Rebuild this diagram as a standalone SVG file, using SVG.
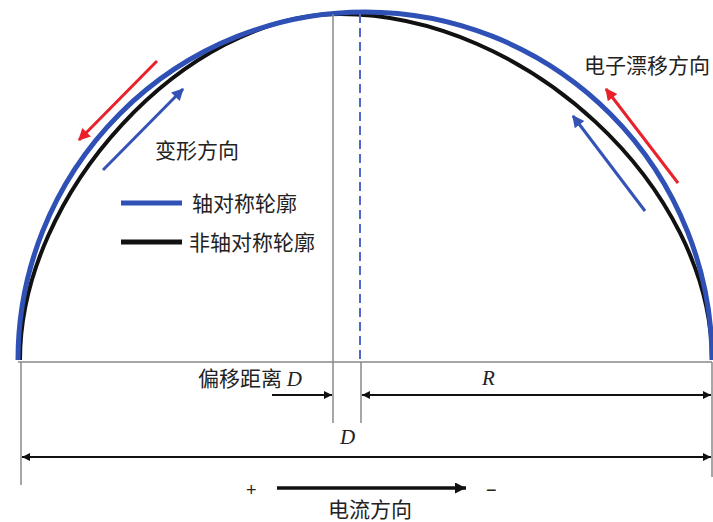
<svg xmlns="http://www.w3.org/2000/svg" width="713" height="522" viewBox="0 0 713 522">
<style>
.cjk{font-family:"Noto Sans CJK SC","Noto Sans",sans-serif;font-size:21px;fill:#222}
.it{font-family:"Liberation Serif",serif;font-style:italic;font-size:21px;fill:#222}
.pm{font-family:"Liberation Sans",sans-serif;font-size:18px;fill:#222}
.grey{stroke:#888;stroke-width:1.5;fill:none}
.dim{stroke:#111;stroke-width:2;fill:none}
</style>
<defs>
<marker id="ak" viewBox="0 0 10 10" refX="10" refY="5" markerWidth="8" markerHeight="8" orient="auto-start-reverse" markerUnits="userSpaceOnUse"><path d="M0,0 L10,5 L0,10 z" fill="#111"/></marker>
<marker id="ak2" viewBox="0 0 10 10" refX="10" refY="5" markerWidth="13" markerHeight="11" orient="auto" markerUnits="userSpaceOnUse"><path d="M0,0 L10,5 L0,10 z" fill="#111"/></marker>
<marker id="ar" viewBox="0 0 10 10" refX="9" refY="5" markerWidth="15" markerHeight="12" orient="auto" markerUnits="userSpaceOnUse"><path d="M0,0 L10,5 L0,10 z" fill="#e8212b"/></marker>
<marker id="ab" viewBox="0 0 10 10" refX="9" refY="5" markerWidth="15" markerHeight="12" orient="auto" markerUnits="userSpaceOnUse"><path d="M0,0 L10,5 L0,10 z" fill="#3552b5"/></marker>
</defs>
<g id="profiles">
<path id="non-axisymmetric" d="M20,360 C20,193 186,14 340,14 C526,14 712,187 712,360" fill="none" stroke="#111" stroke-width="4"/>
<path id="axisymmetric" d="M18,360 A347,348 0 0 1 712,360" fill="none" stroke="#2f50b5" stroke-width="5"/>
</g>
<g id="connectors">
<line class="grey" x1="18" y1="362" x2="712" y2="362"/>
<line class="grey" x1="333" y1="14" x2="333" y2="423"/>
<line x1="360" y1="14" x2="360" y2="362" stroke="#5068cc" stroke-width="2" stroke-dasharray="9,5"/>
<line class="grey" x1="361" y1="362" x2="361" y2="423"/>
<line class="grey" x1="21" y1="362" x2="21" y2="485"/>
<line class="grey" x1="712" y1="362" x2="712" y2="477"/>
<line class="dim" x1="272" y1="395" x2="332" y2="395" marker-end="url(#ak)"/>
<line class="dim" x1="362" y1="395" x2="711" y2="395" marker-start="url(#ak)" marker-end="url(#ak)"/>
<line class="dim" x1="22" y1="457" x2="711" y2="457" marker-start="url(#ak)" marker-end="url(#ak)"/>
<line x1="277" y1="488" x2="466" y2="488" stroke="#111" stroke-width="3.5" marker-end="url(#ak2)"/>
<line x1="157" y1="61" x2="79" y2="140" stroke="#e8212b" stroke-width="3" marker-end="url(#ar)"/>
<line x1="103" y1="170" x2="183" y2="89" stroke="#3552b5" stroke-width="3" marker-end="url(#ab)"/>
<line x1="678" y1="183" x2="606" y2="89" stroke="#e8212b" stroke-width="3" marker-end="url(#ar)"/>
<line x1="645" y1="211" x2="573" y2="116" stroke="#3552b5" stroke-width="3" marker-end="url(#ab)"/>
</g>
<g id="legend">
<line x1="121" y1="203" x2="182" y2="203" stroke="#2f50b5" stroke-width="5"/>
<text class="cjk" x="192" y="211">轴对称轮廓</text>
<line x1="121" y1="242" x2="182" y2="242" stroke="#111" stroke-width="5"/>
<text class="cjk" x="189" y="250">非轴对称轮廓</text>
</g>
<g id="labels">
<text class="cjk" x="155" y="158">变形方向</text>
<text class="cjk" x="584" y="73">电子漂移方向</text>
<text class="cjk" x="198" y="386">偏移距离 <tspan class="it">D</tspan></text>
<text class="it" x="340" y="444">D</text>
<text class="it" x="482" y="385">R</text>
<text class="pm" x="246" y="496">+</text>
<text class="pm" x="486" y="496">−</text>
<text class="cjk" x="328" y="517">电流方向</text>
</g>
</svg>
